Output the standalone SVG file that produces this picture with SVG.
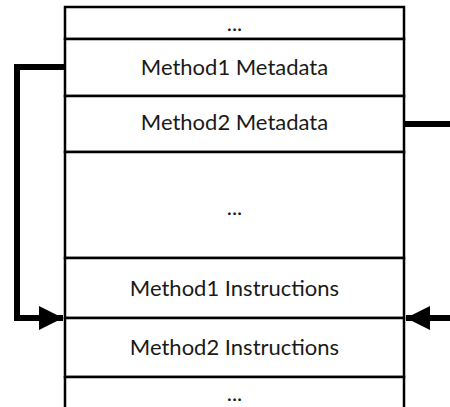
<svg xmlns="http://www.w3.org/2000/svg" width="450" height="407" viewBox="0 0 450 407">
  <style>
    .cell { fill: #ffffff; stroke: #000000; stroke-width: 2.5; }
    .label { font-family: "Lato", "Open Sans", "Liberation Sans", sans-serif; font-size: 22px; fill: #1a1a1a; text-anchor: middle; }
    .link { fill: none; stroke: #000000; stroke-width: 6; }
  </style>
  <defs>
    <marker id="head" viewBox="0 0 24 24" refX="24" refY="12" markerWidth="24" markerHeight="24" markerUnits="userSpaceOnUse" orient="auto">
      <path d="M0 0 L24 12 L0 24 Z" fill="#000000"/>
    </marker>
  </defs>

  <!-- memory layout column -->
  <g id="top-gap">
    <rect class="cell" x="65" y="7" width="339" height="32"/>
    <text class="label" x="234.5" y="31">...</text>
  </g>
  <g id="method1-metadata">
    <rect class="cell" x="65" y="39" width="339" height="57"/>
    <text class="label" x="234.5" y="75">Method1 Metadata</text>
  </g>
  <g id="method2-metadata">
    <rect class="cell" x="65" y="96" width="339" height="56"/>
    <text class="label" x="234.5" y="130">Method2 Metadata</text>
  </g>
  <g id="middle-gap">
    <rect class="cell" x="65" y="152" width="339" height="106"/>
    <text class="label" x="234.5" y="215">...</text>
  </g>
  <g id="method1-instructions">
    <rect class="cell" x="65" y="258" width="339" height="60"/>
    <text class="label" x="234.5" y="296">Method1 Instructions</text>
  </g>
  <g id="method2-instructions">
    <rect class="cell" x="65" y="318" width="339" height="59"/>
    <text class="label" x="234.5" y="355">Method2 Instructions</text>
  </g>
  <g id="bottom-gap">
    <rect class="cell" x="65" y="377" width="339" height="40"/>
    <text class="label" x="234.5" y="401">...</text>
  </g>

  <!-- pointers from metadata to instructions -->
  <g id="connectors">
    <path class="link" d="M65 67 H17 V318 H63" marker-end="url(#head)"/>
    <path class="link" d="M404 124 H452"/>
    <path class="link" d="M452 318 H406" marker-end="url(#head)"/>
  </g>
</svg>
